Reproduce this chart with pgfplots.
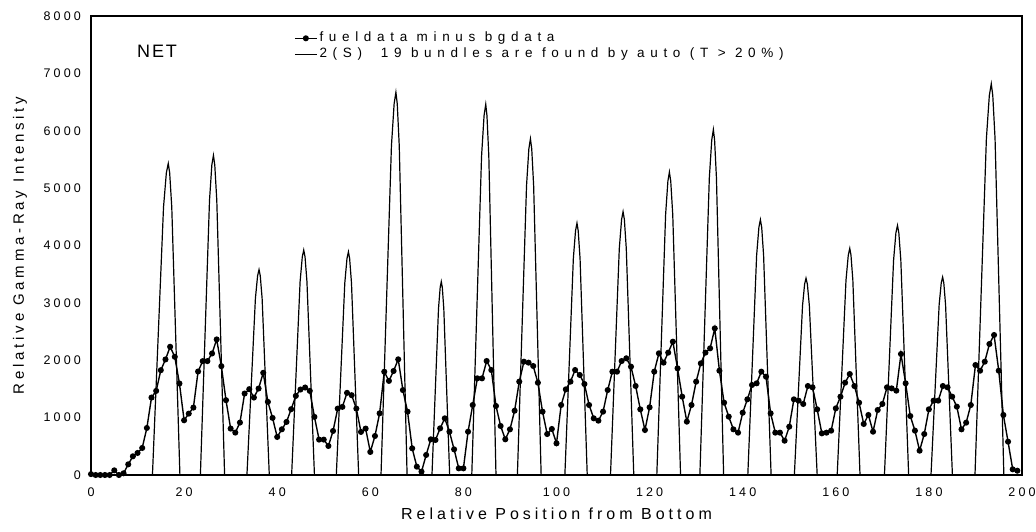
\documentclass[border=0pt]{standalone}
\usepackage{fontspec}
\setmainfont{Liberation Sans}
\newfontfamily\tickfamily[LetterSpace=25]{Liberation Sans}
\newfontfamily\labfamily[LetterSpace=25]{Liberation Sans}
\newfontfamily\legfamily[LetterSpace=42]{Liberation Sans}
\newfontfamily\netfamily[LetterSpace=10]{Liberation Sans}
\usepackage{pgfplots}
\pgfplotsset{compat=1.18}

\pgfplotstableread{
x y
0 15
1 0
2 0
3 0
4 0
5 81
6 0
7 30
8 186
9 326
10 384
11 471
12 820
13 1350
14 1466
15 1827
16 2014
17 2235
18 2060
19 1595
20 954
21 1070
22 1175
23 1804
24 1985
25 1985
26 2118
27 2363
28 1897
29 1304
30 809
31 739
32 914
33 1420
34 1496
35 1350
36 1507
37 1781
38 1275
39 995
40 663
41 797
42 925
43 1147
44 1379
45 1490
46 1525
47 1466
48 1013
49 617
50 617
51 506
52 768
53 1158
54 1187
55 1432
56 1391
57 1158
58 751
59 809
60 402
61 680
62 1075
63 1800
64 1640
65 1813
66 2016
67 1480
68 1104
69 465
70 145
71 58
72 349
73 622
74 610
75 813
76 988
77 755
78 447
79 116
80 116
81 755
82 1220
83 1685
84 1685
85 1987
86 1830
87 1203
88 854
89 622
90 796
91 1121
92 1627
93 1975
94 1958
95 1900
96 1609
97 1104
98 714
99 802
100 552
101 1220
102 1493
103 1627
104 1830
105 1743
106 1586
107 1220
108 988
109 947
110 1104
111 1481
112 1801
113 1801
114 1987
115 2034
116 1888
117 1551
118 1145
119 784
120 1180
121 1801
122 2121
123 1958
124 2133
125 2324
126 1859
127 1365
128 930
129 1220
130 1627
131 1946
132 2133
133 2208
134 2556
135 1818
136 1261
137 1017
138 796
139 738
140 1086
141 1319
142 1569
143 1598
144 1801
145 1714
146 1075
147 738
148 738
149 598
150 842
151 1319
152 1296
153 1238
154 1551
155 1528
156 1145
157 726
158 738
159 773
160 1162
161 1365
162 1609
163 1760
164 1551
165 1261
166 889
167 1046
168 755
169 1133
170 1238
171 1528
172 1510
173 1470
174 2109
175 1598
176 1028
177 773
178 424
179 714
180 1145
181 1296
182 1296
183 1551
184 1528
185 1365
186 1191
187 796
188 912
189 1220
190 1917
191 1818
192 1975
193 2283
194 2440
195 1818
196 1046
197 581
198 99
199 75
}\netdata

\pgfplotstableread{
x y
0 0
13.2 0
15.58 4670
16.19 5267
16.6 5430
16.9 5267
17.35 4670
19.1 0
23.5 0
25.46 4790
25.96 5403
26.3 5570
26.59 5403
27.02 4790
28.7 0
33.5 0
35.32 3079
35.79 3473
36.1 3580
36.36 3473
36.76 3079
38.3 0
43.1 0
44.92 3371
45.39 3802
45.7 3920
45.98 3802
46.39 3371
48.0 0
52.7 0
54.52 3345
54.99 3773
55.3 3890
55.56 3773
55.96 3345
57.5 0
62.3 0
64.54 5736
65.12 6470
65.5 6670
65.79 6470
66.22 5736
67.9 0
73.25 0
74.65 2898
75.01 3269
75.25 3370
75.47 3269
75.79 2898
77.05 0
81.8 0
83.9 5556
84.44 6266
84.8 6460
85.06 6266
85.46 5556
87.0 0
91.6 0
93.56 5040
94.06 5684
94.4 5860
94.68 5684
95.09 5040
96.7 0
101.8 0
103.62 3775
104.09 4258
104.4 4390
104.66 4258
105.06 3775
106.6 0
111.6 0
113.49 3947
113.98 4452
114.3 4590
114.58 4452
114.99 3947
116.6 0
121.55 0
123.44 4541
123.93 5122
124.25 5280
124.54 5122
124.97 4541
126.65 0
130.8 0
132.83 5177
133.35 5839
133.7 6020
133.96 5839
134.36 5177
135.9 0
141.1 0
142.99 3827
143.48 4317
143.8 4450
144.08 4317
144.49 3827
146.1 0
151.1 0
152.85 2950
153.3 3327
153.6 3430
153.89 3327
154.32 2950
156.0 0
160.3 0
162.19 3397
162.68 3832
163.0 3950
163.26 3832
163.66 3397
165.2 0
170.45 0
172.41 3741
172.91 4220
173.25 4350
173.54 4220
173.97 3741
175.65 0
180.45 0
182.2 2967
182.65 3347
182.95 3450
183.2 3347
183.58 2967
185.05 0
189.9 0
192.35 5865
192.98 6615
193.4 6820
193.72 6615
194.21 5865
196.1 0
200 0
}\bundles

\begin{document}
\begin{tikzpicture}
\begin{axis}[
  name=ax, at={(0pt,0pt)}, anchor=south west,
  width=931pt, height=459pt, scale only axis,
  xmin=0, xmax=200, ymin=0, ymax=8000,
  xtick={0,20,...,200}, ytick={0,1000,...,8000},
  major tick length=0pt,
  /pgf/number format/assume math mode=true,
  /pgf/number format/1000 sep={},
  ticklabel style={font=\tickfamily\fontsize{12.5}{14}\selectfont},
  xticklabel style={anchor=north, yshift=-13pt, inner sep=0pt},
  yticklabel style={anchor=east, xshift=-10pt, inner sep=0pt},
  axis line style={line width=1.2pt},
  xlabel={Relative Position from Bottom},
  ylabel={Relative Gamma-Ray Intensity},
  xlabel style={at={(axis description cs:0.5,-0.085)}, anchor=center, inner sep=0pt, font=\labfamily\fontsize{16}{18}\selectfont},
  ylabel style={at={(axis description cs:-0.0763,0.5)}, anchor=center, inner sep=0pt, font=\labfamily\fontsize{15}{17}\selectfont},
  legend style={at={(axis description cs:0.218,0.966)}, anchor=north west, draw=none, fill=none, inner sep=0pt, row sep=3pt, column sep=2pt, font=\legfamily\fontsize{13.5}{15}\selectfont, nodes={inner sep=0pt, text height=10pt, text depth=3pt}},
  legend cell align=left,
  legend image code/.code={\draw[mark repeat=2,mark phase=2,#1] plot coordinates {(0pt,0pt) (11pt,0pt) (22pt,0pt)};},
]
\addplot[black, line width=1.4pt, mark=*, mark size=2.3pt, mark options={solid}] table[x=x,y=y] {\netdata};
\addlegendentry{fueldata minus bgdata}
\addplot[black, line width=1.2pt, mark=none] table[x=x,y=y] {\bundles};
\addlegendentry{2(S)~ 19 bundles are found by auto (T > 20\%)}
\node[font=\netfamily\fontsize{18}{20}\selectfont, anchor=center] at (axis description cs:0.0709,0.9237) {NET};
\end{axis}
\draw[line width=2.2pt] (ax.north west) -- (ax.south west) -- (ax.south east);
\pgfresetboundingbox
\path[use as bounding box] (-91pt,-56pt) rectangle (945pt,475pt);
\end{tikzpicture}
\end{document}
